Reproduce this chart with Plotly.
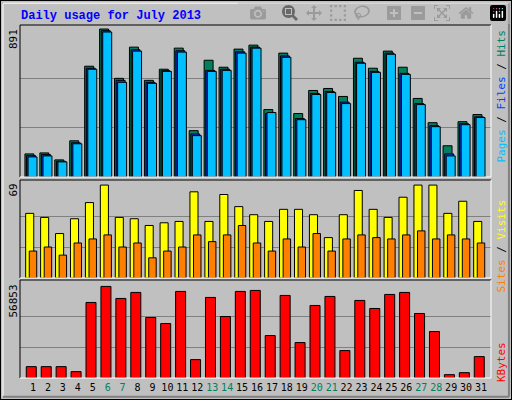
import plotly.graph_objects as go

days = list(range(1, 32))
weekend = [6, 7, 13, 14, 20, 21, 27, 28]

hits = [139, 145, 103, 218, 667, 891, 594, 782, 582, 649, 776, 279, 703, 661, 770, 794,
        406, 746, 382, 521, 533, 485, 715, 655, 758, 661, 473, 327, 188, 333, 376]
files = [129, 135, 95, 206, 655, 881, 582, 766, 570, 640, 760, 259, 642, 649, 754, 782,
         382, 729, 352, 503, 515, 451, 691, 636, 746, 624, 442, 309, 139, 321, 362]
pages = [121, 127, 91, 200, 649, 873, 570, 758, 564, 636, 752, 249, 636, 642, 746, 776,
         388, 721, 345, 497, 509, 442, 685, 630, 739, 618, 436, 303, 127, 315, 358]
visits = [48, 45, 33, 44, 56, 69, 45, 44, 39, 41, 42, 64, 42, 62, 53, 47,
          42, 51, 51, 47, 30, 47, 65, 51, 45, 60, 69, 69, 48, 57, 42]
sites = [20, 23, 17, 26, 29, 32, 23, 26, 15, 20, 23, 32, 27, 32, 39, 26,
         20, 29, 23, 33, 20, 29, 32, 30, 29, 32, 35, 29, 32, 29, 26]
kbytes = [7055, 7055, 7055, 3943, 46895, 56853, 49385, 53120, 37558, 33823, 53743, 11413,
          50008, 38180, 53743, 54365, 26353, 51253, 21995, 45028, 50630, 17015, 48140,
          43160, 51875, 53120, 40048, 28843, 2075, 3320, 13280]

max_hits = 891
max_visits = 69
max_kb = 56853

bg = "#C0C0C0"
line = dict(color="black", width=1)

fig = go.Figure()
fig.add_trace(go.Bar(x=days, y=hits, offset=-0.54, width=0.6, marker=dict(color="#00805C", line=line), xaxis="x", yaxis="y"))
fig.add_trace(go.Bar(x=days, y=files, offset=-0.43, width=0.6, marker=dict(color="#0040FF", line=line), xaxis="x", yaxis="y"))
fig.add_trace(go.Bar(x=days, y=pages, offset=-0.33, width=0.6, marker=dict(color="#00C0FF", line=line), xaxis="x", yaxis="y"))
fig.add_trace(go.Bar(x=days, y=visits, offset=-0.49, width=0.54, marker=dict(color="#FFFF00", line=line), xaxis="x2", yaxis="y2"))
fig.add_trace(go.Bar(x=days, y=sites, offset=-0.25, width=0.5, marker=dict(color="#FF8000", line=line), xaxis="x2", yaxis="y2"))
fig.add_trace(go.Bar(x=days, y=kbytes, offset=-0.45, width=0.67, marker=dict(color="#FF0000", line=line), xaxis="x3", yaxis="y3"))

ticktext = [f'<span style="color:#00805C">{d}</span>' if d in weekend else str(d) for d in days]
xr = [0.13, 31.67]
xdom = [20 / 512, 491 / 512]
font = dict(family="DejaVu Sans Mono", size=11, color="black")

def ydom(top, bottom):
    return [(400 - bottom) / 400, (400 - top) / 400]

panels = [(25, 177), (180, 278), (280, 378)]

fig.update_layout(
    width=512, height=400, margin=dict(l=0, r=0, t=0, b=0),
    paper_bgcolor=bg, plot_bgcolor=bg, showlegend=False, barmode="overlay",
    font=font,
    xaxis=dict(domain=xdom, range=xr, anchor="y", showticklabels=False, showgrid=False, zeroline=False),
    xaxis2=dict(domain=xdom, range=xr, anchor="y2", showticklabels=False, showgrid=False, zeroline=False),
    xaxis3=dict(domain=xdom, range=xr, anchor="y3", tickvals=days, ticktext=ticktext, ticks="",
                tickangle=0, ticklabelstandoff=2, showgrid=False, zeroline=False,
                tickfont=dict(size=10, family="DejaVu Sans Mono")),
    yaxis=dict(domain=ydom(*panels[0]), range=[0, max_hits * 151 / 147], tickvals=[297, 594],
               showticklabels=False, gridcolor="#808080", zeroline=False),
    yaxis2=dict(domain=ydom(*panels[1]), range=[0, max_visits * 96.3 / 91.3], tickvals=[23, 46],
                showticklabels=False, gridcolor="#808080", zeroline=False),
    yaxis3=dict(domain=ydom(*panels[2]), range=[0, max_kb * 97.7 / 91.3], tickvals=[max_kb / 3, max_kb * 2 / 3],
                showticklabels=False, gridcolor="#808080", zeroline=False),
)

shapes = [
    dict(type="rect", xref="paper", yref="paper", x0=0, x1=1, y0=0, y1=1,
         line=dict(color="black", width=2), layer="below"),
    dict(type="line", xref="paper", yref="paper", x0=3 / 512, x1=3 / 512, y0=0.01, y1=0.99,
         line=dict(color="white", width=1)),
    dict(type="line", xref="paper", yref="paper", x0=0.006, x1=0.994, y0=0.992, y1=0.992,
         line=dict(color="white", width=1)),
    dict(type="line", xref="paper", yref="paper", x0=0.006, x1=0.994, y0=0.008, y1=0.008,
         line=dict(color="#808080", width=2)),
    dict(type="line", xref="paper", yref="paper", x0=0.994, x1=0.994, y0=0.008, y1=0.992,
         line=dict(color="#808080", width=2)),
]
for top, bottom in panels:
    y0, y1 = ydom(top, bottom)
    shapes += [
        dict(type="line", xref="paper", yref="paper", x0=xdom[0], x1=xdom[1], y0=y1, y1=y1, line=dict(color="black", width=1)),
        dict(type="line", xref="paper", yref="paper", x0=xdom[0], x1=xdom[0], y0=y0, y1=y1, line=dict(color="black", width=1)),
        dict(type="line", xref="paper", yref="paper", x0=xdom[0], x1=xdom[1], y0=y0, y1=y0, line=dict(color="white", width=1)),
        dict(type="line", xref="paper", yref="paper", x0=xdom[1], x1=xdom[1], y0=y0, y1=y1, line=dict(color="white", width=1)),
    ]
fig.update_layout(shapes=shapes)

def px_y(y):
    return (400 - y) / 400

anns = [
    dict(text="<b>Daily usage for July 2013</b>", x=19 / 512, y=px_y(7), xanchor="left", yanchor="top",
         font=dict(family="Liberation Mono", size=12, color="#0000FF")),
    dict(text=str(max_hits), x=13 / 512, y=px_y(27), textangle=-90, yanchor="top"),
    dict(text=str(max_visits), x=13 / 512, y=px_y(182), textangle=-90, yanchor="top"),
    dict(text=str(max_kb), x=13 / 512, y=px_y(283), textangle=-90, yanchor="top"),
    dict(text='<span style="color:#00C0FF">Pages</span> / <span style="color:#0040FF">Files</span> / <span style="color:#00805C">Hits</span>',
         x=501 / 512, y=px_y(28), textangle=-90, yanchor="top"),
    dict(text='<span style="color:#FF8000">Sites</span> / <span style="color:#FFFF00">Visits</span>',
         x=501 / 512, y=px_y(198), textangle=-90, yanchor="top"),
    dict(text='<span style="color:#FF0000">KBytes</span>',
         x=501 / 512, y=px_y(340), textangle=-90, yanchor="top"),
]
for a in anns:
    a.setdefault("xanchor", "center")
    a.update(xref="paper", yref="paper", showarrow=False)
    a.setdefault("font", font)
fig.update_layout(annotations=anns)

fig.write_html("out.html", post_script="document.body.style.margin='0';")
